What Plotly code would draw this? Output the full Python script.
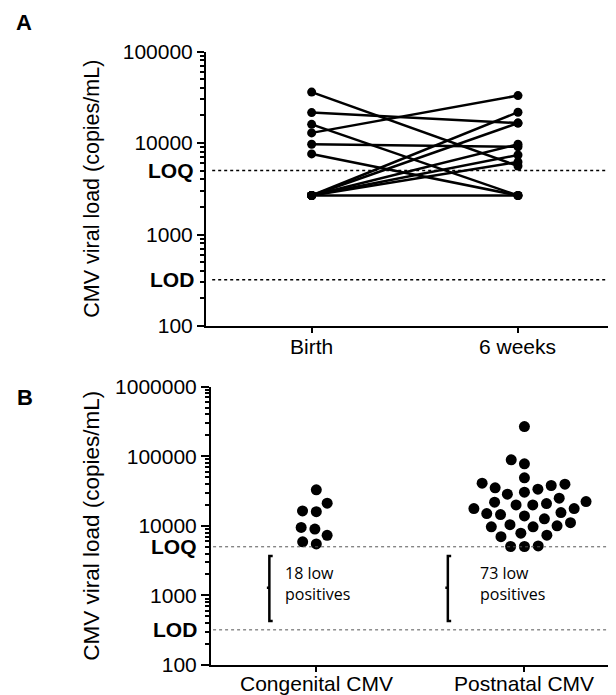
import numpy as np
import plotly.graph_objects as go

# ---------------- data ----------------
timepoints = ["Birth", "6 weeks"]
birth_load = [36000, 21500, 16000, 12900, 9700, 7600, 2670, 2670, 2670, 2670, 2670, 2670]
week6_load = [5600, 16500, 2670, 33000, 9100, 2670, 21700, 16500, 9700, 7400, 6200, 2670]

groups = ["Congenital CMV", "Postnatal CMV"]
congenital_load = [32900, 21200, 16000, 16400, 9500, 9000, 7300, 5500, 5900]
postnatal_load = [267000, 78000, 89000, 41000, 38000, 33600, 30500, 35200, 39700, 49000,
                  28500, 25000, 22300, 20900, 20000, 17700, 17700, 20000, 21900, 15500,
                  14500, 15000, 13900, 12600, 10400, 9700, 9700, 10000, 11100, 7350,
                  7000, 7850, 5150, 5050, 5050]
low_positive_counts = [18, 73]

LOQ = 5000
LOD = 320
yticks_a = [100, 1000, 10000, 100000]
yticks_b = [100, 1000, 10000, 100000, 1000000]

# ---------------- layout constants ----------------
W, H = 616, 695
OFF = 8  # page body margin compensation
FONT = "Liberation Sans, Arial, sans-serif"


def fx(px):
    return (px - OFF) / W


def fy(py):
    return 1 - (py - OFF) / H


xa_dom = [fx(206), 1.0]
ya_dom = [fy(326), fy(51.5)]
xb_dom = [fx(211), 1.0]
yb_dom = [fy(665), fy(386.7)]
xa_rng = [-0.512, 1.475 + OFF / 206.4]
xb_rng = [-0.506, 1.44 + OFF / 208.1]


def minor_vals(lo_exp, hi_exp):
    return [k * 10 ** e for e in range(lo_exp, hi_exp) for k in range(2, 10)]


def beeswarm(values, px_per_decade, d):
    ys = np.log10(np.array(values, dtype=float)) * px_per_decade
    order = np.argsort(ys)
    placed = []
    xs = np.zeros(len(values))
    for i in order:
        y = ys[i]
        intervals = []
        for xj, yj in placed:
            dy = abs(y - yj)
            if dy < d:
                h = np.sqrt(d * d - dy * dy)
                intervals.append((xj - h, xj + h))
        cands = [0.0] + [a for a, b in intervals] + [b for a, b in intervals]
        cands.sort(key=abs)
        for c in cands:
            if all(not (a + 1e-9 < c < b - 1e-9) for a, b in intervals):
                xs[i] = c
                break
        placed.append((xs[i], y))
    return xs


fig = go.Figure()

# ---------------- panel A ----------------
for b, w in zip(birth_load, week6_load):
    fig.add_trace(go.Scatter(
        x=[0, 1], y=[b, w], mode="lines+markers",
        line=dict(color="black", width=2.5),
        marker=dict(color="black", size=9),
        xaxis="x", yaxis="y", hoverinfo="skip"))

for lvl in (LOQ, LOD):
    fig.add_trace(go.Scatter(
        x=[xa_rng[0] + 0.03, xa_rng[1]], y=[lvl, lvl], mode="lines",
        line=dict(color="black", width=1.6, dash="dot"),
        xaxis="x", yaxis="y", hoverinfo="skip"))

# ---------------- panel B ----------------
px_per_dec_b = (yb_dom[1] - yb_dom[0]) * H / 4
px_per_unit_b = (xb_dom[1] - xb_dom[0]) * W / (xb_rng[1] - xb_rng[0])
for gi, vals in enumerate([congenital_load, postnatal_load]):
    off = beeswarm(vals, px_per_dec_b, 13.8) / px_per_unit_b
    fig.add_trace(go.Scatter(
        x=gi + off, y=vals, mode="markers",
        marker=dict(color="black", size=11),
        xaxis="x2", yaxis="y2", hoverinfo="skip"))

for lvl in (LOQ, LOD):
    fig.add_trace(go.Scatter(
        x=[xb_rng[0] + 0.01, xb_rng[1]], y=[lvl, lvl], mode="lines",
        line=dict(color="#555555", width=1, dash="dot"),
        xaxis="x2", yaxis="y2", hoverinfo="skip"))

# brackets for low positives
bracket_x = [-0.2256, 1 - 0.368]
br_top, br_mid, br_bot = 3700, 1290, 430
for gi, bx in enumerate(bracket_x):
    fig.add_trace(go.Scatter(
        x=[bx + 0.016, bx, bx, bx - 0.012, bx, bx, bx + 0.016],
        y=[br_top, br_top, br_mid, br_mid, br_mid, br_bot, br_bot],
        mode="lines", line=dict(color="black", width=2.5),
        xaxis="x2", yaxis="y2", hoverinfo="skip"))

annotations = []
text_x = [-0.16, 1 - 0.224]
for gi, n in enumerate(low_positive_counts):
    annotations.append(dict(
        x=text_x[gi], y=np.log10(1500), xref="x2", yref="y2",
        text=f"{n} low<br>positives", showarrow=False,
        xanchor="left", yanchor="middle", align="left",
        font=dict(family="Open Sans, sans-serif", size=16, color="black")))

# category labels (placed as text under the category ticks)
for xref, cats, cy in (("x", timepoints, 347), ("x2", groups, 683)):
    for i, c in enumerate(cats):
        annotations.append(dict(
            x=i, y=fy(cy), xref=xref, yref="paper", text=c, showarrow=False,
            xanchor="center", yanchor="middle",
            font=dict(family=FONT, size=21, color="black")))

# LOQ / LOD labels
for yref, xr in (("y", fx(196)), ("y2", fx(199))):
    for lbl, lvl in (("LOQ", LOQ), ("LOD", LOD)):
        annotations.append(dict(
            x=xr, y=np.log10(lvl), xref="paper", yref=yref,
            text=f"<b>{lbl}</b>", showarrow=False,
            xanchor="right", yanchor="middle",
            font=dict(family=FONT, size=21, color="black")))

# y titles
annotations.append(dict(
    x=fx(92), y=(ya_dom[0] + ya_dom[1]) / 2, xref="paper", yref="paper",
    text="CMV viral load (copies/mL)", textangle=-90, showarrow=False,
    xanchor="center", yanchor="middle",
    font=dict(family=FONT, size=21.5, color="black")))
annotations.append(dict(
    x=fx(92), y=(yb_dom[0] + yb_dom[1]) / 2, xref="paper", yref="paper",
    text="CMV viral load (copies/mL)", textangle=-90, showarrow=False,
    xanchor="center", yanchor="middle",
    font=dict(family=FONT, size=22.5, color="black")))

# panel letters
for letter, cx, cy in (("A", 24, 22.5), ("B", 24.5, 397.5)):
    annotations.append(dict(
        x=fx(cx), y=fy(cy), xref="paper", yref="paper",
        text=f"<b>{letter}</b>", showarrow=False,
        xanchor="center", yanchor="middle",
        font=dict(family=FONT, size=22, color="black")))

axis_common = dict(showline=True, linewidth=2, linecolor="black", showgrid=False,
                   zeroline=False, ticks="outside", tickwidth=2, tickcolor="black",
                   automargin=False,
                   tickfont=dict(family=FONT, size=21, color="black"))

fig.update_layout(
    width=W, height=H, margin=dict(l=0, r=0, t=0, b=0, pad=0, autoexpand=False),
    paper_bgcolor="white", plot_bgcolor="white", showlegend=False,
    xaxis=dict(domain=xa_dom, range=xa_rng, anchor="y", tickmode="array",
               tickvals=[0, 1], showticklabels=False, ticklen=5, **axis_common),
    yaxis=dict(domain=ya_dom, type="log", range=[2, 5], anchor="x", tickmode="array",
               tickvals=yticks_a, ticktext=[str(v) for v in yticks_a], ticklen=7,
               minor=dict(tickmode="array", tickvals=minor_vals(2, 5), ticks="outside",
                          ticklen=4, tickwidth=1.5, tickcolor="black"),
               **axis_common),
    xaxis2=dict(domain=xb_dom, range=xb_rng, anchor="y2", tickmode="array",
                tickvals=[0, 1], showticklabels=False, ticklen=5, **axis_common),
    yaxis2=dict(domain=yb_dom, type="log", range=[2, 6], anchor="x2", tickmode="array",
                tickvals=yticks_b, ticktext=[str(v) for v in yticks_b], ticklen=8,
                minor=dict(tickmode="array", tickvals=minor_vals(2, 6), ticks="outside",
                           ticklen=4, tickwidth=1.5, tickcolor="black"),
                **axis_common),
    annotations=annotations,
)

fig.write_html("out.html")
